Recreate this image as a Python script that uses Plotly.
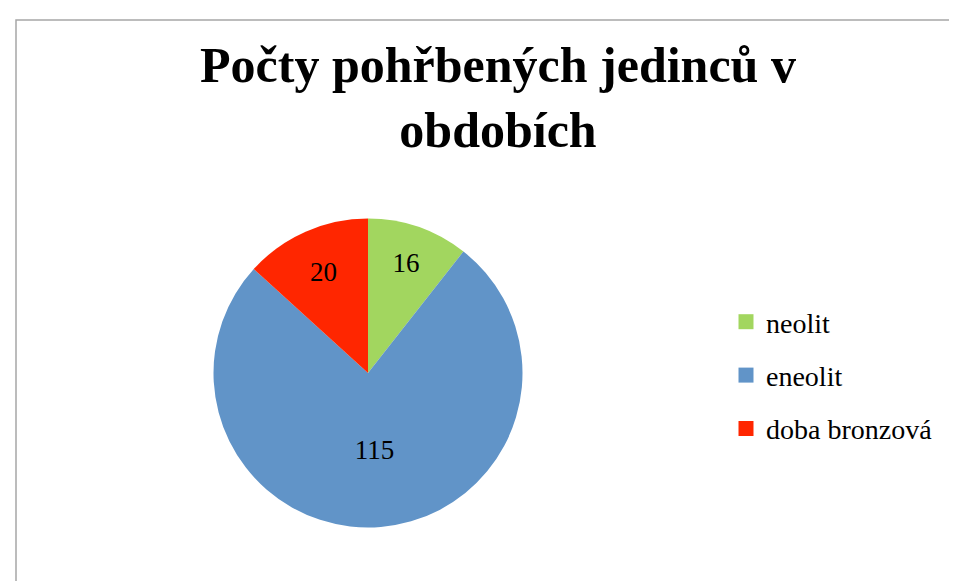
import plotly.graph_objects as go

categories = ["neolit", "eneolit", "doba bronzová"]
values = [16, 115, 20]
colors = ["#A2D65F", "#6194C8", "#FF2600"]
title_text = "<b>Počty pohřbených jedinců v<br>obdobích</b>"

W, H = 957, 581
serif = "Liberation Serif, DejaVu Serif, serif"

fig = go.Figure()
fig.add_trace(go.Pie(
    labels=categories, values=values, sort=False, direction="clockwise", rotation=0,
    marker=dict(colors=colors, line=dict(width=0)),
    textinfo="value", textposition="inside", insidetextorientation="horizontal",
    textfont=dict(family=serif, size=27, color="black"),
    showlegend=False, hoverinfo="label+value",
    domain=dict(x=[205.5 / W, 514.5 / W], y=[1 - 519.5 / H, 1 - 210.5 / H]),
))
for name, col in zip(categories, colors):
    fig.add_trace(go.Scatter(
        x=[None], y=[None], mode="markers", name=name, legendgroup=name,
        marker=dict(symbol="square", size=15, color=col),
    ))

fig.update_layout(
    width=W, height=H,
    margin=dict(l=0, r=0, t=0, b=0),
    paper_bgcolor="white", plot_bgcolor="white",
    xaxis=dict(visible=False), yaxis=dict(visible=False),
    title=dict(text=title_text, x=490 / W, xanchor="center", y=1 - 74 / H, yanchor="top",
               font=dict(family=serif, size=50, color="black")),
    legend=dict(x=718 / W, xanchor="left", y=1 - 289 / H, yanchor="top",
                font=dict(family=serif, size=28, color="black"),
                tracegroupgap=14, itemwidth=30, bgcolor="rgba(0,0,0,0)"),
    shapes=[dict(type="rect", xref="paper", yref="paper",
                 x0=8 / W, x1=1.05, y0=-0.05, y1=1 - 12 / H,
                 line=dict(color="#A6A6A6", width=1.5), fillcolor="rgba(0,0,0,0)")],
)
fig.write_html("out.html")
